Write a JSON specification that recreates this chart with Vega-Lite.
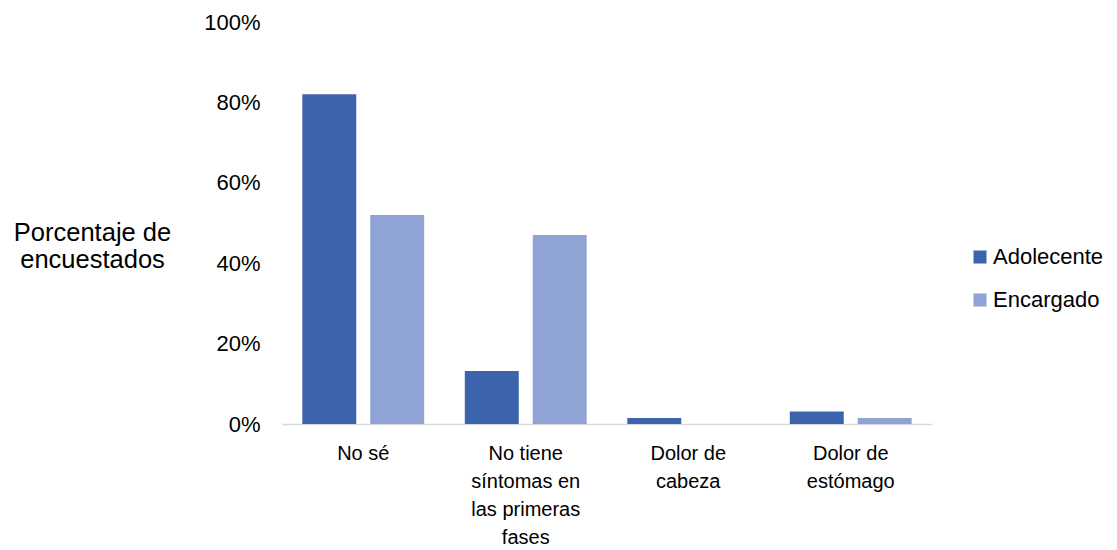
{
  "$schema": "https://vega.github.io/schema/vega-lite/v6.json",
  "width": 650,
  "height": 402,
  "autosize": {"type": "none"},
  "padding": {"left": 282, "top": 22, "right": 185, "bottom": 126},
  "background": "white",
  "data": {
    "values": [
      {"categoria": "No sé", "grupo": "Adolecente", "porcentaje": 0.82},
      {"categoria": "No sé", "grupo": "Encargado", "porcentaje": 0.52},
      {"categoria": "No tiene|síntomas en|las primeras|fases", "grupo": "Adolecente", "porcentaje": 0.132},
      {"categoria": "No tiene|síntomas en|las primeras|fases", "grupo": "Encargado", "porcentaje": 0.47},
      {"categoria": "Dolor de|cabeza", "grupo": "Adolecente", "porcentaje": 0.015},
      {"categoria": "Dolor de|cabeza", "grupo": "Encargado", "porcentaje": 0},
      {"categoria": "Dolor de|estómago", "grupo": "Adolecente", "porcentaje": 0.031},
      {"categoria": "Dolor de|estómago", "grupo": "Encargado", "porcentaje": 0.015}
    ]
  },
  "mark": {"type": "bar"},
  "encoding": {
    "x": {
      "field": "categoria",
      "type": "nominal",
      "sort": ["No sé", "No tiene|síntomas en|las primeras|fases", "Dolor de|cabeza", "Dolor de|estómago"],
      "scale": {"paddingInner": 0.25, "paddingOuter": 0.125},
      "axis": {
        "title": null,
        "domainColor": "#d9d9d9",
        "domainWidth": 1.5,
        "ticks": false,
        "grid": false,
        "labelAngle": 0,
        "labelFontSize": 20,
        "labelColor": "#000000",
        "labelLineHeight": 28,
        "labelPadding": 19,
        "labelBaseline": "top",
        "labelExpr": "split(datum.label, '|')"
      }
    },
    "xOffset": {
      "field": "grupo",
      "type": "nominal",
      "sort": ["Adolecente", "Encargado"],
      "scale": {"paddingInner": 0.206, "paddingOuter": 0}
    },
    "y": {
      "field": "porcentaje",
      "type": "quantitative",
      "scale": {"domain": [0, 1]},
      "axis": {
        "domain": false,
        "ticks": false,
        "grid": false,
        "values": [0, 0.2, 0.4, 0.6, 0.8, 1],
        "format": ".0%",
        "labelFontSize": 22,
        "labelColor": "#000000",
        "labelPadding": 22,
        "title": ["Porcentaje de", "encuestados"],
        "titleAngle": 0,
        "titleFontSize": 25.5,
        "titleFontWeight": "normal",
        "titleAlign": "center",
        "titleBaseline": "middle",
        "titleX": -190,
        "titleY": 210,
        "titleColor": "#000000",
        "titleLineHeight": 27
      }
    },
    "color": {
      "field": "grupo",
      "type": "nominal",
      "scale": {"domain": ["Adolecente", "Encargado"], "range": ["#3C64AC", "#8FA4D5"]},
      "legend": {
        "title": null,
        "orient": "none",
        "legendX": 687,
        "legendY": 224,
        "symbolType": "square",
        "symbolSize": 169,
        "symbolStrokeWidth": 0,
        "labelFontSize": 22,
        "labelColor": "#000000",
        "rowPadding": 21,
        "labelOffset": 2
      }
    }
  },
  "config": {"view": {"stroke": null}, "font": "Liberation Sans"}
}
